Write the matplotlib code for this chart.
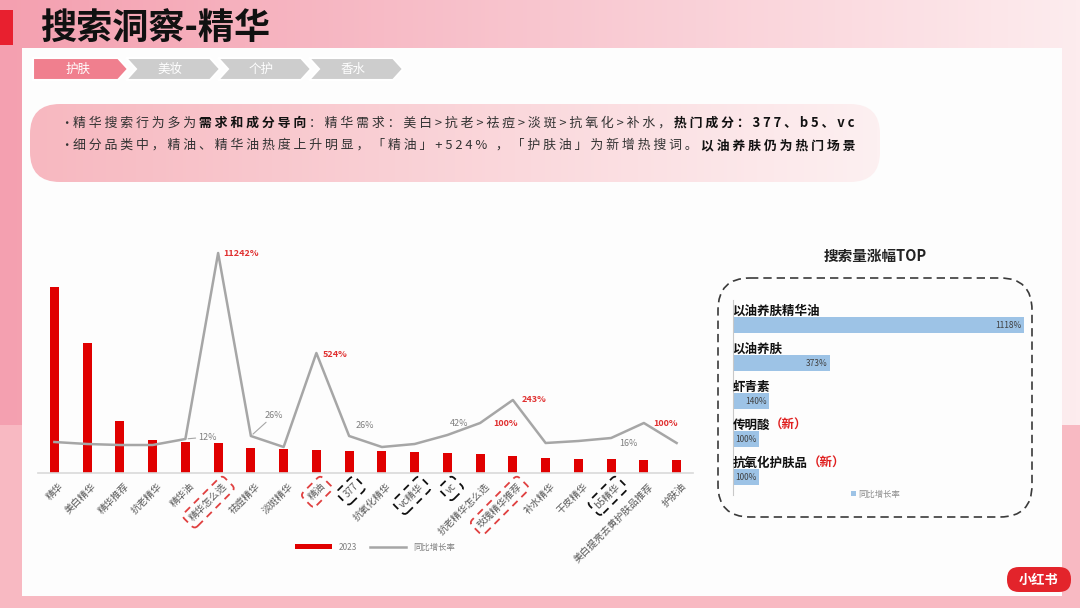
import matplotlib.pyplot as plt
import numpy as np
from matplotlib.patches import FancyBboxPatch, Polygon, Rectangle

plt.rcParams['font.family'] = ['Noto Sans CJK SC', 'DejaVu Sans']

# ---- data ----
categories = ['精华', '美白精华', '精华推荐', '抗老精华', '精华油', '精华怎么选', '祛痘精华', '淡斑精华',
              '精油', '377', '抗氧化精华', 'vc精华', 'vc', '抗老精华怎么选', '玫瑰精华推荐', '补水精华',
              '干皮精华', 'b5精华', '美白提亮去黄护肤品推荐', '护肤油']
# 2023 search volume (relative)
volume_2023 = [186, 130, 52, 33, 31, 30, 25, 24, 23, 22, 22, 21, 20, 19, 17, 15, 14, 14, 13, 13]
# yoy growth line height (as drawn in the picture, not to scale with the labels)
growth_height = [31, 29, 28, 28, 34, 220, 37, 26, 120, 37, 26, 29, 38, 50, 73, 30, 32, 35, 50, 30]
growth_labels = {4: '12%', 5: '11242%', 6: '26%', 8: '524%', 9: '26%', 12: '42%',
                 13: '100%', 14: '243%', 17: '16%', 18: '100%'}
red_box = [5, 8, 14]
black_box = [9, 11, 12, 17]

top_names = ['以油养肤精华油', '以油养肤', '虾青素', '传明酸', '抗氧化护肤品']
top_new = [False, False, False, True, True]
top_growth = [1118, 373, 140, 100, 100]

W, H = 1080, 608
fig = plt.figure(figsize=(W / 100, H / 100), dpi=100)

# ---- background / decoration (pixel coords) ----
bg = fig.add_axes([0, 0, 1, 1])
bg.set_xlim(0, W)
bg.set_ylim(H, 0)
bg.axis('off')

t = np.linspace(0, 1, 256)
left_c = np.array([244, 160, 176]) / 255
right_c = np.array([253, 236, 238]) / 255
grad = left_c[None, :] * (1 - t[:, None]) + right_c[None, :] * t[:, None]
bg.imshow(grad[None, :, :], extent=[0, W, H, 0], aspect='auto', zorder=0)
bg.add_patch(Rectangle((0, 425), W, 183, fc='#f8b9c2', ec='none', zorder=0.5))
bg.add_patch(Rectangle((22, 48), 1040, 548, fc='#fdfdfd', ec='none', zorder=1))

# title
bg.add_patch(Rectangle((0, 10), 13, 35, fc='#e8202f', ec='none', zorder=2))
bg.text(40, 29, '搜索洞察-精华', fontsize=26, fontweight='heavy', color='#111111',
        va='center', ha='left', zorder=3)

# tabs
tabs = ['护肤', '美妆', '个护', '香水']
tab_x = [(33, 128), (126, 220), (218, 311), (309, 403)]
for i, (name, (x0, x1)) in enumerate(zip(tabs, tab_x)):
    d = 10
    pts = [(x0, 58), (x1 - d, 58), (x1, 69), (x1 - d, 80), (x0, 80)]
    if i > 0:
        pts.append((x0 + d, 69))
    col = '#f07f8e' if i == 0 else '#cdcdcd'
    bg.add_patch(Polygon(pts, closed=True, fc=col, ec='white', lw=1.5, zorder=2))
    bg.text((x0 + x1) / 2 - 3, 69, name, fontsize=9, color='white', ha='center', va='center', zorder=3)

# bullet box with gradient
box = FancyBboxPatch((30, 104), 850, 78, boxstyle='round,pad=0,rounding_size=30',
                     fc='none', ec='none', zorder=2)
bg.add_patch(box)
c0 = np.array([247, 184, 192]) / 255
c1 = np.array([253, 240, 241]) / 255
g2 = c0[None, :] * (1 - t[:, None]) + c1[None, :] * t[:, None]
im = bg.imshow(g2[None, :, :], extent=[30, 880, 182, 104], aspect='auto', zorder=2)
im.set_clip_path(box)


def spaced(s):
    return ' '.join(s)


def rich_line(x, y, parts, fs=9.3):
    prev = bg.text(x, y, spaced(parts[0][0]), fontsize=fs, va='center', ha='left',
                   color='#111111' if parts[0][1] else '#333333',
                   fontweight='bold' if parts[0][1] else 'normal', zorder=4)
    for s, bold in parts[1:]:
        prev = bg.annotate(' ' + spaced(s), xy=(1, 0.5), xycoords=prev, va='center', ha='left',
                           fontsize=fs, color='#111111' if bold else '#333333',
                           fontweight='bold' if bold else 'normal', zorder=4)


bg.text(60, 123, '•', fontsize=9, color='#333333', va='center', zorder=4)
bg.text(60, 145, '•', fontsize=9, color='#333333', va='center', zorder=4)
rich_line(73, 123, [('精华搜索行为多为', False), ('需求和成分导向', True),
                    ('：精华需求：美白>抗老>祛痘>淡斑>抗氧化>补水，', False),
                    ('热门成分：377、b5、vc', True)])
rich_line(73, 145, [('细分品类中，精油、精华油热度上升明显，「精油」+524% ，「护肤油」为新增热搜词。', False),
                    ('以油养肤仍为热门场景', True)])

# right panel frame + title
bg.add_patch(FancyBboxPatch((718, 278), 314, 239, boxstyle='round,pad=0,rounding_size=32',
                            fc='none', ec='#3a3a3a', lw=1.2, ls=(0, (5, 3)), zorder=3))
bg.text(875, 256, '搜索量涨幅TOP', fontsize=10.5, fontweight='bold', ha='center', va='center',
        color='#222222', zorder=4)

# logo
bg.add_patch(FancyBboxPatch((1007, 567), 64, 25, boxstyle='round,pad=0,rounding_size=12',
                            fc='#e3242b', ec='none', zorder=3))
bg.text(1039, 579.5, '小红书', fontsize=9.5, fontweight='bold', color='white',
        ha='center', va='center', zorder=4)

# ---- main combo chart ----
ax = fig.add_axes([38 / W, 1 - 473 / H, 655 / W, 224 / H])
ax.set_facecolor('none')
x = np.arange(len(categories))
bars = ax.bar(x, volume_2023, width=0.28, color='#e00000', label='2023', zorder=2)
ax.set_xlim(-0.5, len(categories) - 0.5)
ax.set_ylim(0, 224)
ax.set_yticks([])
for s in ['top', 'left', 'right']:
    ax.spines[s].set_visible(False)
ax.spines['bottom'].set_color('#d9d9d9')
ax.spines['bottom'].set_linewidth(1.2)
ax.tick_params(axis='x', length=0, pad=6)
ax.set_xticks(x + 0.12)
ax.set_xticklabels(categories, rotation=45, ha='right', rotation_mode='anchor',
                   fontsize=7, color='#595959')
for i, lab in enumerate(ax.get_xticklabels()):
    if i in red_box:
        lab.set_bbox(dict(boxstyle='round,pad=0.45', fc='none', ec='#e04040', ls=(0, (4, 3)), lw=1.3))
    elif i in black_box:
        lab.set_bbox(dict(boxstyle='round,pad=0.45', fc='none', ec='#111111', ls=(0, (4, 3)), lw=1.3))

ax2 = ax.twinx()
ax2.set_ylim(0, 224)
ax2.axis('off')
line, = ax2.plot(x, growth_height, color='#a6a6a6', lw=1.8, label='同比增长率', zorder=3)

label_off = {4: (13, 2), 5: (5, 0), 6: (14, 21), 8: (6, -1), 9: (6, 10), 12: (3, 11),
             13: (13, 0), 14: (9, 0), 17: (8, -5), 18: (9, 0)}
for i, txt in growth_labels.items():
    red = txt.endswith('00%') or txt in ('11242%', '524%', '243%')
    dx, dy = label_off[i]
    kw = {}
    if i in (4, 6):
        kw['arrowprops'] = dict(arrowstyle='-', color='#a6a6a6', lw=0.8, shrinkA=0, shrinkB=2)
    ax2.annotate(txt, xy=(i, growth_height[i]), xytext=(dx * 0.72, dy * 0.72),
                 textcoords='offset points', ha='left', va='center', fontsize=6.5,
                 color='#e03030' if red else '#7f7f7f',
                 fontweight='bold' if red else 'normal', **kw)

fig.legend(handles=[bars, line], labels=['2023', '同比增长率'], loc='center',
           bbox_to_anchor=(375 / W, 1 - 547 / H), ncol=2, frameon=False, fontsize=6,
           handlelength=4.4, handleheight=0.6, columnspacing=1.5, labelcolor='#7f7f7f')

# ---- right panel: top growth bars ----
axr = fig.add_axes([733 / W, 1 - 495 / H, 291 / W, 195 / H])
axr.set_facecolor('none')
yr = np.arange(len(top_names))
hb = axr.barh(yr, top_growth, height=0.42, color='#9dc3e6', label='同比增长率', zorder=2)
axr.set_xlim(0, 1118)
axr.set_ylim(4.47, -0.66)
axr.set_xticks([])
axr.set_yticks([])
for s in ['top', 'right', 'bottom']:
    axr.spines[s].set_visible(False)
axr.spines['left'].set_color('#c8c8c8')
for i, (name, new, v) in enumerate(zip(top_names, top_new, top_growth)):
    tl = axr.text(-2, i - 0.37, name, fontsize=9, fontweight='bold', color='#111111',
                  ha='left', va='center')
    if new:
        axr.annotate('（新）', xy=(1, 0.5), xycoords=tl, ha='left', va='center',
                     fontsize=9, fontweight='bold', color='#e02020')
    axr.annotate(f'{v}%', xy=(v, i), xytext=(-2, 0), textcoords='offset points',
                 ha='right', va='center', fontsize=6, color='#404040')
axr.legend(handles=[hb], loc='center', bbox_to_anchor=(0.49, 0.005), frameon=False,
           fontsize=6, handlelength=0.6, handleheight=0.6, handletextpad=0.3,
           labelcolor='#8c8c8c')

fig.savefig('out.png', dpi=100)
